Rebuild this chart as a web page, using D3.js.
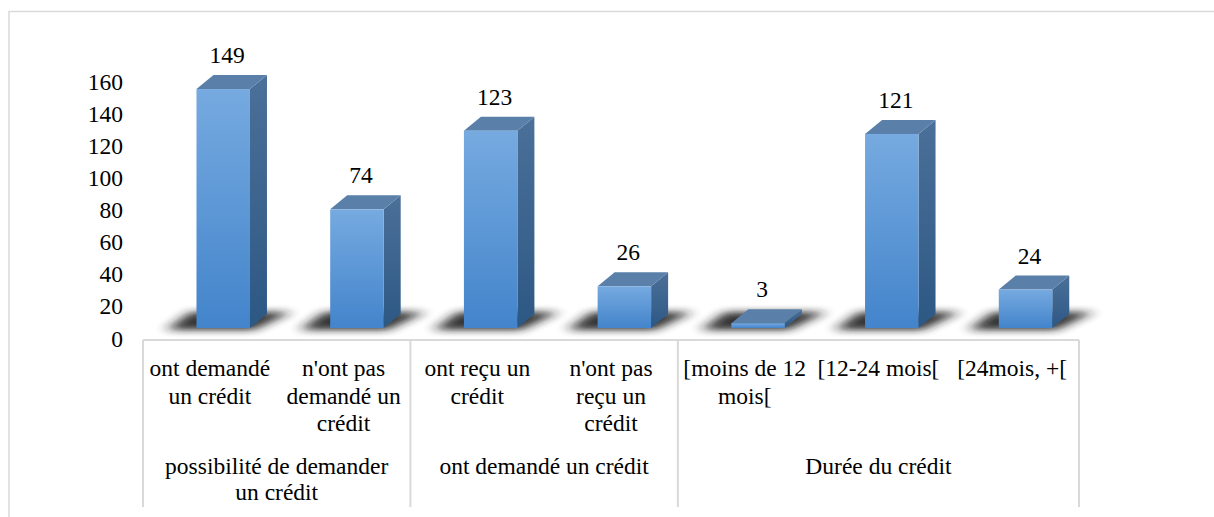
<!DOCTYPE html>
<html>
<head>
<meta charset="utf-8">
<script src="https://cdn.jsdelivr.net/npm/d3@7"></script>
<style>
  body { margin: 0; background: #fff; }
</style>
</head>
<body>
<div id="chart"></div>
<script>
// data
const categories = ["ont demandé\nun crédit", "n'ont pas\ndemandé un\ncrédit",
                    "ont reçu un\ncrédit", "n'ont pas\nreçu un\ncrédit",
                    "[moins de 12\nmois[", "[12-24 mois[", "[24mois, +["]
const values = [149, 74, 123, 26, 3, 121, 24]
const groups = ["possibilité de demander\nun crédit", "ont demandé un crédit", "Durée du crédit"]
const groupSizes = [2, 2, 3]
const yTicks = [0, 20, 40, 60, 80, 100, 120, 140, 160]

const width = 1214, height = 517
const plot = { left: 143, right: 1079, floor: 328, axisTop: 340, boxBottom: 507 }
const depth = { dx: 17, dy: 14 }
const fontSize = 23.5
const fontFam = "'Liberation Serif', 'Times New Roman', serif"

const svg = d3.select("#chart").append("svg")
    .attr("width", width)
    .attr("height", height)

const defs = svg.append("defs")

const front = defs.append("linearGradient").attr("id", "front")
    .attr("x1", 0).attr("y1", 0).attr("x2", 0).attr("y2", 1)
front.append("stop").attr("offset", "0%").attr("stop-color", "#76aae0")
front.append("stop").attr("offset", "100%").attr("stop-color", "#4384cb")

const side = defs.append("linearGradient").attr("id", "side")
    .attr("x1", 0).attr("y1", 0).attr("x2", 0).attr("y2", 1)
side.append("stop").attr("offset", "0%").attr("stop-color", "#4b7099")
side.append("stop").attr("offset", "100%").attr("stop-color", "#2d5884")

defs.append("filter").attr("id", "blur")
    .attr("x", "-50%").attr("y", "-150%").attr("width", "200%").attr("height", "400%")
  .append("feGaussianBlur").attr("stdDeviation", "7 3.5")

// outer chart border
svg.append("rect")
    .attr("x", 9).attr("y", 11.5)
    .attr("width", width + 20).attr("height", height + 20)
    .attr("fill", "none")
    .attr("stroke", "#d9d9d9")
    .attr("stroke-width", 1.5)

const x = d3.scaleBand()
    .domain(d3.range(categories.length))
    .range([plot.left, plot.right])

const yBar = d3.scaleLinear().domain([0, 160]).range([plot.floor, plot.floor - 256.6])
const yAxis = d3.scaleLinear().domain([0, 160]).range([plot.floor + 10.5, plot.floor + 10.5 - 256.6])

// y axis labels
const axis = svg.append("g")
    .attr("transform", "translate(123,0)")
    .call(d3.axisLeft(yAxis).tickValues(yTicks).tickSize(0).tickPadding(0))
axis.select(".domain").remove()
axis.selectAll("text")
    .attr("fill", "#000")
    .style("font-family", fontFam)
    .style("font-size", fontSize + "px")

const bw = x.bandwidth() * 0.4
const x0 = (i) => x(i) + x.bandwidth() * 0.4

// floor shadows
svg.selectAll(".shadow")
    .data(values)
    .enter().append("polygon")
    .attr("class", "shadow")
    .attr("points", (d, i) => {
        const a = x0(i)
        return [[a - 30, plot.floor + 2], [a + bw + 4, plot.floor + 2],
                [a + bw + depth.dx + 24, plot.floor - depth.dy - 2], [a - 6, plot.floor - depth.dy - 2]].join(" ")
    })
    .attr("fill", "#1e1e1e")
    .attr("opacity", 0.9)
    .attr("filter", "url(#blur)")

const bars = svg.selectAll(".bar")
    .data(values)
    .enter().append("g")
    .attr("class", "bar")

// right side
bars.append("polygon")
    .attr("points", (d, i) => {
        const a = x0(i) + bw, t = yBar(d), b = yBar(0)
        return [[a, t], [a + depth.dx, t - depth.dy], [a + depth.dx, b - depth.dy], [a, b]].join(" ")
    })
    .attr("fill", "url(#side)")

// top
bars.append("polygon")
    .attr("points", (d, i) => {
        const a = x0(i), t = yBar(d)
        return [[a, t], [a + depth.dx, t - depth.dy], [a + bw + depth.dx, t - depth.dy], [a + bw, t]].join(" ")
    })
    .attr("fill", "#5a7fa9")

// front
bars.append("rect")
    .attr("x", (d, i) => x0(i))
    .attr("y", (d) => yBar(d))
    .attr("width", bw)
    .attr("height", (d) => yBar(0) - yBar(d))
    .attr("fill", "url(#front)")

// value labels
svg.selectAll(".value")
    .data(values)
    .enter().append("text")
    .attr("class", "value")
    .attr("x", (d, i) => x0(i) + bw / 2 + 4)
    .attr("y", (d) => yBar(d) - depth.dy - 20)
    .attr("text-anchor", "middle")
    .attr("dominant-baseline", "central")
    .style("font-family", fontFam)
    .style("font-size", fontSize + "px")
    .text((d) => d)

// category box lines
const lineColor = "#d9d9d9"
svg.append("line")
    .attr("x1", plot.left).attr("x2", plot.right)
    .attr("y1", plot.axisTop).attr("y2", plot.axisTop)
    .attr("stroke", lineColor).attr("stroke-width", 2)

let start = 0
const groupBounds = groupSizes.map((n) => {
    const g = { from: start, to: start + n }
    start += n
    return g
})
const seps = [0].concat(groupBounds.map((g) => g.to))
svg.selectAll(".sep")
    .data(seps)
    .enter().append("line")
    .attr("class", "sep")
    .attr("x1", (d) => d < categories.length ? x(d) : plot.right)
    .attr("x2", (d) => d < categories.length ? x(d) : plot.right)
    .attr("y1", plot.axisTop).attr("y2", plot.boxBottom)
    .attr("stroke", lineColor).attr("stroke-width", 2)

// category labels
const lineH = 27.5
svg.selectAll(".cat")
    .data(categories)
    .enter().append("text")
    .attr("class", "cat")
    .attr("text-anchor", "middle")
    .style("font-family", fontFam)
    .style("font-size", fontSize + "px")
    .each(function (d, i) {
        d3.select(this).selectAll("tspan")
            .data(d.split("\n"))
            .enter().append("tspan")
            .attr("x", x(i) + x.bandwidth() / 2)
            .attr("y", (s, j) => 368 + j * lineH)
            .attr("dominant-baseline", "central")
            .text((s) => s)
    })

// group labels
svg.selectAll(".grp")
    .data(groups)
    .enter().append("text")
    .attr("class", "grp")
    .attr("text-anchor", "middle")
    .style("font-family", fontFam)
    .style("font-size", fontSize + "px")
    .each(function (d, i) {
        const g = groupBounds[i]
        const cx = (x(g.from) + (g.to < categories.length ? x(g.to) : plot.right)) / 2
        d3.select(this).selectAll("tspan")
            .data(d.split("\n"))
            .enter().append("tspan")
            .attr("x", cx)
            .attr("y", (s, j) => 466 + j * 26)
            .attr("dominant-baseline", "central")
            .text((s) => s)
    })
</script>
</body>
</html>
